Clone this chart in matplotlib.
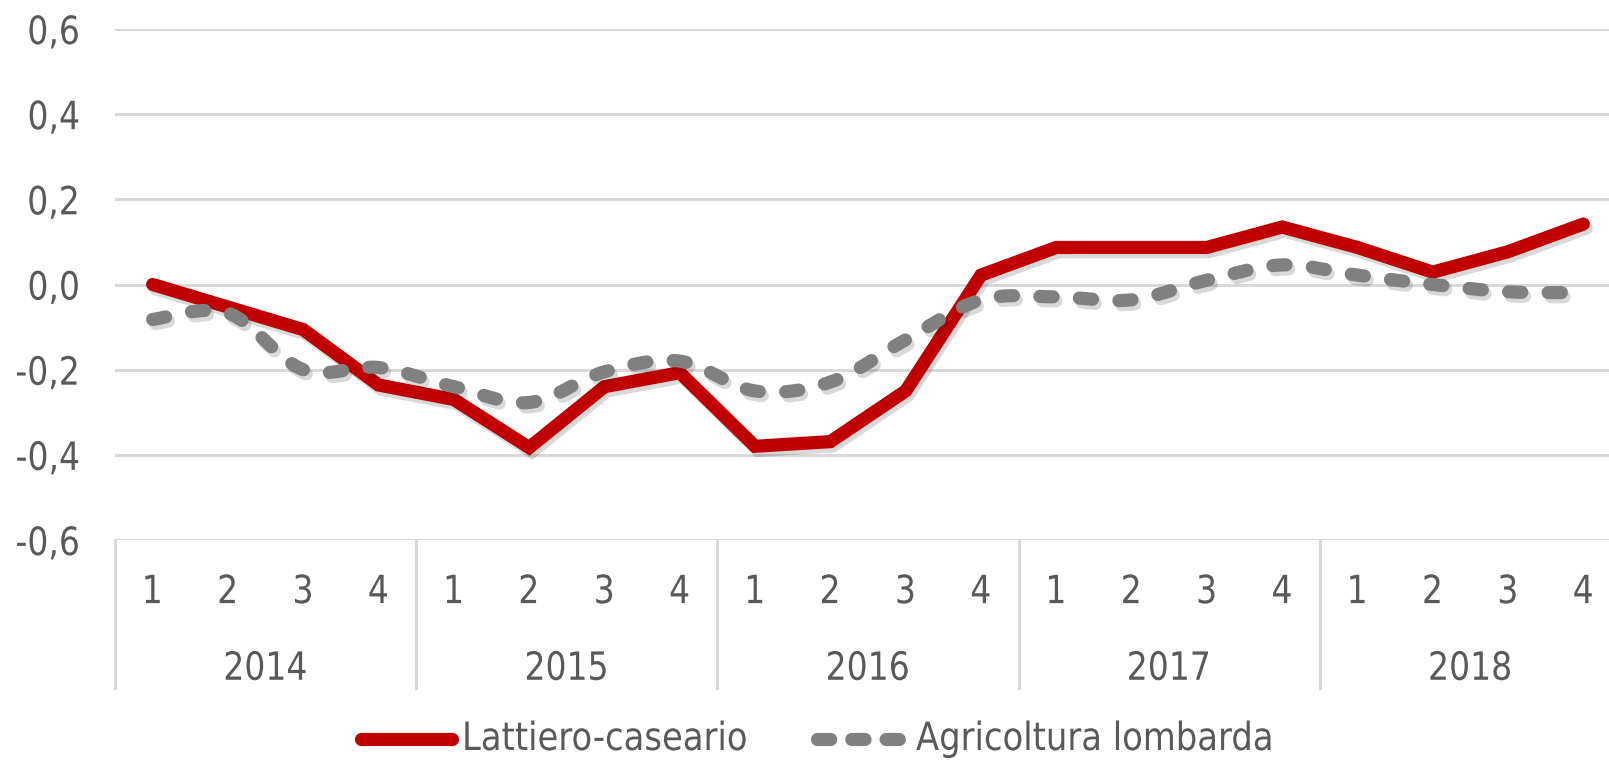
import matplotlib
matplotlib.use("Agg")
import matplotlib.pyplot as plt
import matplotlib.patheffects as pe
from matplotlib.path import Path
from matplotlib.patches import PathPatch
from matplotlib.lines import Line2D
from matplotlib.transforms import Affine2D
import numpy as np

# --- dati ---
years = ["2014", "2015", "2016", "2017", "2018"]
quarters = ["1", "2", "3", "4"]
lattiero = [0.00, -0.053, -0.106, -0.236, -0.27, -0.383, -0.24, -0.207,
            -0.38, -0.369, -0.25, 0.022, 0.087, 0.087, 0.087, 0.135,
            0.087, 0.029, 0.077, 0.142]
agricoltura = [-0.082, -0.067, -0.20, -0.195, -0.24, -0.277, -0.205, -0.18,
               -0.25, -0.229, -0.13, -0.036, -0.029, -0.036, 0.01, 0.046,
               0.022, 0.0, -0.017, -0.019]
yticks = [-0.6, -0.4, -0.2, 0.0, 0.2, 0.4, 0.6]
ytick_labels = ["-0,6", "-0,4", "-0,2", "0,0", "0,2", "0,4", "0,6"]
series_names = ["Lattiero-caseario", "Agricoltura lombarda"]

RED = "#C00000"
GREY = "#808080"
TXT = "#595959"
GRID = "#D9D9D9"
FS = 28
SQ = 0.85   # il font dell'originale e' "stretto"
SQ_LEG = 0.87

plt.rcParams["font.family"] = ["DejaVu Sans"]


class SqueezeX(pe.AbstractPathEffect):
    """Comprime il testo in orizzontale attorno a un punto di ancoraggio."""
    def __init__(self, sx, anchor="center"):
        super().__init__()
        self.sx = sx
        self.anchor = anchor

    def draw_path(self, renderer, gc, tpath, affine, rgbFace=None):
        v = affine.transform(tpath.vertices)
        x0, x1 = v[:, 0].min(), v[:, 0].max()
        cx = {"left": x0, "right": x1}.get(self.anchor, (x0 + x1) / 2)
        sq = Affine2D().translate(-cx, 0).scale(self.sx, 1).translate(cx, 0)
        renderer.draw_path(gc, tpath, affine + sq, rgbFace)


fig = plt.figure(figsize=(16.09, 7.61), dpi=100)
W, H = 1609, 761
left, right, top, bottom = 115, 1621, 29, 540
ax = fig.add_axes([left / W, 1 - bottom / H, (right - left) / W, (bottom - top) / H])

n = len(lattiero)
x = np.arange(n)
ax.set_xlim(-0.5, n - 0.5)
ax.set_ylim(-0.6, 0.6)

for s in ax.spines.values():
    s.set_visible(False)
ax.set_yticks(yticks)
ax.set_yticklabels(ytick_labels, fontsize=FS, color=TXT)
for lab in ax.get_yticklabels():
    lab.set_path_effects([SqueezeX(SQ, "right")])
ax.tick_params(axis="y", length=0, pad=25)
ax.set_xticks([])
for yv in yticks:
    ax.axhline(yv, color=GRID, lw=2.2, zorder=0)

shadow = [pe.SimpleLineShadow(offset=(2, -3), alpha=0.15, shadow_color="black"), pe.Normal()]

ax.plot(x, lattiero, color=RED, lw=9.5, solid_capstyle="round", solid_joinstyle="miter",
        zorder=3, path_effects=shadow)

# linea grigia smussata (curva di Bezier tra i punti)
pts = np.column_stack([x, agricoltura])
verts = [tuple(pts[0])]
codes = [Path.MOVETO]
for i in range(n - 1):
    p0 = pts[i - 1] if i > 0 else pts[i]
    p1 = pts[i]
    p2 = pts[i + 1]
    p3 = pts[i + 2] if i + 2 < n else pts[i + 1]
    c1 = p1 + (p2 - p0) / 6
    c2 = p2 - (p3 - p1) / 6
    verts += [tuple(c1), tuple(c2), tuple(p2)]
    codes += [Path.CURVE4] * 3
grey_patch = PathPatch(Path(verts, codes), facecolor="none", edgecolor=GREY, lw=9.5,
                       linestyle=(0, (1.0, 2.0)), capstyle="round", zorder=4)
grey_patch.set_path_effects(shadow)
ax.add_patch(grey_patch)

# asse categorie a due livelli
tr = ax.get_xaxis_transform()
for i in range(n):
    ax.text(i, -0.102, quarters[i % 4], transform=tr, ha="center", va="center",
            fontsize=FS, color=TXT, path_effects=[SqueezeX(SQ)])
for k, yr in enumerate(years):
    ax.text(4 * k + 1.5, -0.252, yr, transform=tr, ha="center", va="center",
            fontsize=FS, color=TXT, path_effects=[SqueezeX(SQ)])
for k in range(len(years) + 1):
    ax.plot([4 * k - 0.5, 4 * k - 0.5], [0, -0.29], transform=tr, color=GRID,
            lw=2.2, clip_on=False)

# legenda costruita a mano
ly = 1 - 739 / H
fig.add_artist(Line2D([361 / W, 452 / W], [ly, ly], color=RED, lw=9.5,
                      solid_capstyle="round"))
fig.text(462 / W, ly, series_names[0], ha="left", va="center", fontsize=FS, color=TXT,
         path_effects=[SqueezeX(SQ_LEG, "left")])
fig.add_artist(Line2D([817 / W, 904 / W], [ly, ly], color=GREY, lw=9.5,
                      linestyle=(0, (1.0, 1.6)), dash_capstyle="round"))
fig.text(916 / W, ly, series_names[1], ha="left", va="center", fontsize=FS, color=TXT,
         path_effects=[SqueezeX(SQ_LEG, "left")])

fig.savefig("out.png", dpi=100)
